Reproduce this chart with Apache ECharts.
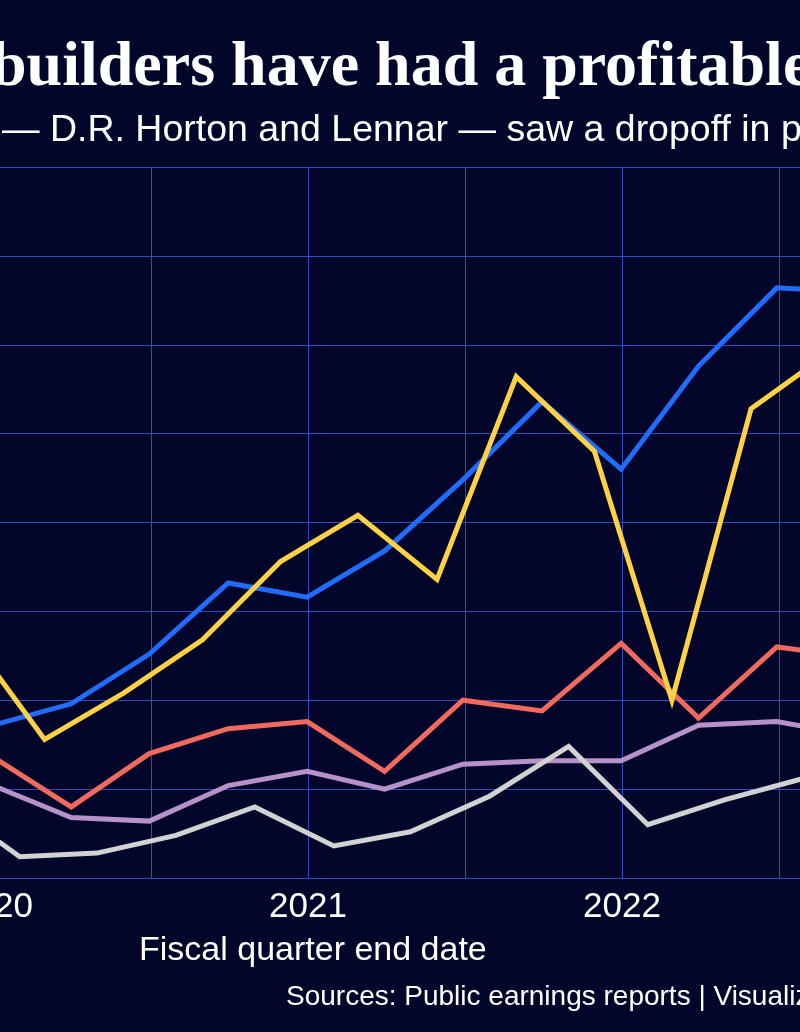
<!DOCTYPE html>
<html lang="en">
<head>
<meta charset="UTF-8">
<title>Homebuilder quarterly results</title>
<script src="https://cdn.jsdelivr.net/npm/echarts@6/dist/echarts.min.js"></script>
<style>
  html, body { margin: 0; padding: 0; background: #03062b; }
</style>
</head>
<body>
<div id="main" style="width: 800px;height: 1032px"></div>
<script type="text/javascript">
  // fiscal quarter end dates (three calendars)
  var calendarQuarters = ['2019-12-31', '2020-03-31', '2020-06-30', '2020-09-30', '2020-12-31', '2021-03-31',
    '2021-06-30', '2021-09-30', '2021-12-31', '2022-03-31', '2022-06-30', '2022-09-30'];
  var lennarQuarters = ['2019-11-30', '2020-02-29', '2020-05-31', '2020-08-31', '2020-11-30', '2021-02-28',
    '2021-05-31', '2021-08-31', '2021-11-30', '2022-02-28', '2022-05-31', '2022-08-31'];
  var tollQuarters = ['2019-10-31', '2020-01-31', '2020-04-30', '2020-07-31', '2020-10-31', '2021-01-31',
    '2021-04-30', '2021-07-31', '2021-10-31', '2022-01-31', '2022-04-30', '2022-07-31'];

  // values, billions of dollars
  var hortonValues = [0.43, 0.49, 0.63, 0.83, 0.79, 0.92, 1.12, 1.34, 1.15, 1.44, 1.66, 1.65];
  var lennarValues = [0.69, 0.39, 0.52, 0.67, 0.89, 1.02, 0.84, 1.41, 1.20, 0.50, 1.32, 1.48];
  var pulteValues = [0.34, 0.20, 0.35, 0.42, 0.44, 0.30, 0.50, 0.47, 0.66, 0.45, 0.65, 0.62];
  var nvrValues = [0.26, 0.17, 0.16, 0.26, 0.30, 0.25, 0.32, 0.33, 0.33, 0.43, 0.44, 0.40];
  var tollValues = [0.22, 0.06, 0.07, 0.12, 0.20, 0.09, 0.13, 0.23, 0.37, 0.15, 0.22, 0.28];

  var yearTicks = [2020, 2021, 2022];

  // date string -> fractional year, so the value axis can place it
  function toYear(s) {
    var p = s.split('-');
    var y = +p[0];
    var start = Date.UTC(y, 0, 1);
    var end = Date.UTC(y + 1, 0, 1);
    var t = Date.UTC(y, +p[1] - 1, +p[2]);
    return y + (t - start) / (end - start);
  }
  function pairs(dates, vals) {
    return dates.map(function (d, i) { return [toYear(d), vals[i]]; });
  }
  function lineSeries(name, color, dates, vals) {
    return {
      name: name,
      type: 'line',
      data: pairs(dates, vals),
      showSymbol: false,
      symbol: 'none',
      lineStyle: {color: color, width: 5, join: 'miter'},
      itemStyle: {color: color}
    };
  }

  var myChart = echarts.init(document.getElementById('main'));
  var option = {
    backgroundColor: '#03062b',
    animation: false,
    grid: {left: -6, right: -10, top: 167, bottom: 154, outerBoundsMode: 'none', containLabel: false},
    xAxis: {
      type: 'value',
      min: 2020,
      max: 2020 + 816 / 314,
      interval: 0.5,
      axisLine: {show: false},
      axisTick: {show: false},
      splitLine: {lineStyle: {color: '#2f4cc0', width: 1}},
      axisLabel: {
        color: '#ffffff',
        fontSize: 35,
        fontFamily: 'Liberation Sans',
        margin: 12,
        formatter: function (v) {
          return yearTicks.indexOf(v) >= 0 ? String(v) : '';
        }
      }
    },
    yAxis: {
      type: 'value',
      min: 0,
      max: 2,
      interval: 0.25,
      axisLine: {show: false},
      axisTick: {show: false},
      axisLabel: {show: false},
      splitLine: {lineStyle: {color: '#2f4cc0', width: 1}}
    },
    series: [
      lineSeries('NVR', '#b792c9', calendarQuarters, nvrValues),
      lineSeries('Toll Brothers', '#d2d2d2', tollQuarters, tollValues),
      lineSeries('PulteGroup', '#f26a5d', calendarQuarters, pulteValues),
      lineSeries('D.R. Horton', '#1f6cff', calendarQuarters, hortonValues),
      lineSeries('Lennar', '#ffd246', lennarQuarters, lennarValues)
    ],
    graphic: [
      {
        type: 'text', x: -9, y: 68,
        style: {text: 'builders have had a profitable', fill: '#ffffff',
          font: 'bold 64px "Liberation Serif", serif', verticalAlign: 'middle'}
      },
      {
        type: 'text', x: 2, y: 131,
        style: {text: '— D.R. Horton and Lennar — saw a dropoff in profits', fill: '#ffffff',
          font: '37.5px "Liberation Sans", sans-serif', verticalAlign: 'middle'}
      },
      {
        type: 'text', x: 139, y: 951,
        style: {text: 'Fiscal quarter end date', fill: '#ffffff',
          font: '34px "Liberation Sans", sans-serif', verticalAlign: 'middle'}
      },
      {
        type: 'text', x: 286, y: 997,
        style: {text: 'Sources: Public earnings reports | Visualization', fill: '#ffffff',
          font: '28px "Liberation Sans", sans-serif', verticalAlign: 'middle'}
      }
    ]
  };
  myChart.setOption(option);
</script>
</body>
</html>
